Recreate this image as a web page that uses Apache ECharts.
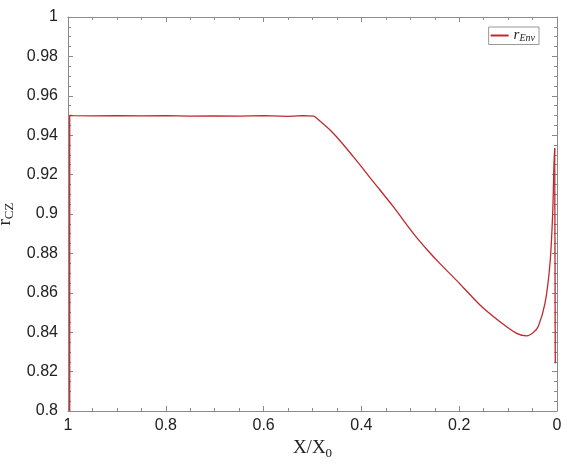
<!DOCTYPE html>
<html>
<head>
<meta charset="utf-8">
<script src="https://cdn.jsdelivr.net/npm/echarts@6/dist/echarts.min.js"></script>
<style>html,body{margin:0;padding:0;background:#fff}#c{width:567px;height:463px}</style>
</head>
<body>
<div id="c"></div>
<script>
// Data (X/X0, r_CZ)
// left edge and plateau
var plateauX = [0.9965, 0.9965, 0.99, 0.95, 0.9, 0.85, 0.8, 0.75, 0.7, 0.65, 0.6, 0.55, 0.52, 0.4969];
var plateauY = [0.800, 0.950, 0.9499, 0.9498, 0.9499, 0.9498, 0.9499, 0.9497, 0.9498, 0.9497, 0.9499, 0.9496, 0.9499, 0.9497];
// declining branch, minimum and steep rise
var curveX = [0.4969, 0.4575, 0.4166, 0.3757, 0.3348, 0.2939, 0.2632, 0.2393, 0.1984, 0.1575, 0.1166, 0.0824,
  0.062, 0.0485, 0.0382, 0.0245, 0.0143, 0.0088, 0.0061, 0.0047];
var curveY = [0.9497, 0.9410, 0.9291, 0.9164, 0.9037, 0.8902, 0.8812, 0.8748, 0.8645, 0.8538, 0.8453, 0.8394,
  0.8381, 0.8398, 0.8430, 0.8547, 0.8750, 0.9004, 0.9257, 0.9334];
// drop at the right edge
var edgeX = [0.0047, 0.0035, 0.0035];
var edgeY = [0.9334, 0.9334, 0.8242];
var xTicks = [1, 0.8, 0.6, 0.4, 0.2, 0];
var yTicks = [0.8, 0.82, 0.84, 0.86, 0.88, 0.9, 0.92, 0.94, 0.96, 0.98, 1];

var axisGray = '#8a8a8a';
var red = '#c0282d';
function zip(xs, ys) { return xs.map(function (x, i) { return [x, ys[i]]; }); }

function xAx(pos, show) {
  return {
    type: 'value', position: pos, inverse: true, min: 0, max: 1, interval: 0.2,
    axisLine: { show: true, onZero: false, lineStyle: { color: axisGray, width: 1 } },
    axisTick: { show: true, inside: true, length: 5, lineStyle: { color: axisGray } },
    minorTick: { show: true, splitNumber: 4, length: 3, lineStyle: { color: axisGray } },
    splitLine: { show: false },
    axisLabel: { show: show, color: '#222', fontFamily: 'Liberation Sans', fontSize: 16, margin: 7,
      formatter: function (v) { return String(+v.toFixed(2)); } },
    name: show ? '{a|X/X}{b|0}' : '', nameLocation: 'middle', nameGap: 24,
    nameTextStyle: { rich: {
      a: { fontFamily: 'Liberation Serif', fontSize: 19, color: '#222' },
      b: { fontFamily: 'Liberation Serif', fontSize: 13, color: '#222', padding: [10, 0, 0, 0] } } }
  };
}
function yAx(pos, show) {
  return {
    type: 'value', position: pos, min: 0.8, max: 1, interval: 0.02,
    axisLine: { show: true, onZero: false, lineStyle: { color: axisGray, width: 1 } },
    axisTick: { show: true, inside: true, length: 5, lineStyle: { color: axisGray } },
    minorTick: { show: true, splitNumber: 4, length: 3, lineStyle: { color: axisGray } },
    splitLine: { show: false },
    axisLabel: { show: show, color: '#222', fontFamily: 'Liberation Sans', fontSize: 16, margin: 10,
      formatter: function (v) { return String(+v.toFixed(2)); } },
    name: show ? '{a|r}{b|CZ}' : '', nameLocation: 'middle', nameGap: 33, nameRotate: 90,
    nameTextStyle: { rich: {
      a: { fontFamily: 'Liberation Serif', fontSize: 19, color: '#222' },
      b: { fontFamily: 'Liberation Serif', fontSize: 13, color: '#222', padding: [8, 0, 0, 0] } } }
  };
}
function ser(data, smooth) {
  return {
    name: 'rEnv', type: 'line', xAxisIndex: 0, yAxisIndex: 0,
    data: data, showSymbol: false, symbol: 'none', smooth: smooth,
    lineStyle: { color: red, width: 1.3 }, itemStyle: { color: red }
  };
}

var chart = echarts.init(document.getElementById('c'));
chart.setOption({
  animation: false,
  backgroundColor: '#fff',
  grid: { left: 68, right: 10, top: 17, bottom: 52, containLabel: false, outerBoundsMode: 'none' },
  xAxis: [xAx('bottom', true), xAx('top', false)],
  yAxis: [yAx('left', true), yAx('right', false)],
  legend: {
    right: 28, top: 27, orient: 'vertical',
    itemWidth: 18, itemHeight: 2, itemGap: 0,
    padding: [1, 4, 1, 2],
    borderColor: '#999', borderWidth: 1, backgroundColor: '#fff',
    icon: 'rect',
    data: [{ name: 'rEnv' }],
    formatter: function () { return '{a|r}{b|Env}'; },
    textStyle: { rich: {
      a: { fontFamily: 'Liberation Serif', fontStyle: 'italic', fontSize: 15, color: '#222' },
      b: { fontFamily: 'Liberation Serif', fontStyle: 'italic', fontSize: 10, color: '#222', padding: [6, 0, 0, 0] } } }
  },
  series: [
    ser(zip(plateauX, plateauY), false),
    ser(zip(curveX, curveY), 0.3),
    ser(zip(edgeX, edgeY), false)
  ]
});
</script>
</body>
</html>
